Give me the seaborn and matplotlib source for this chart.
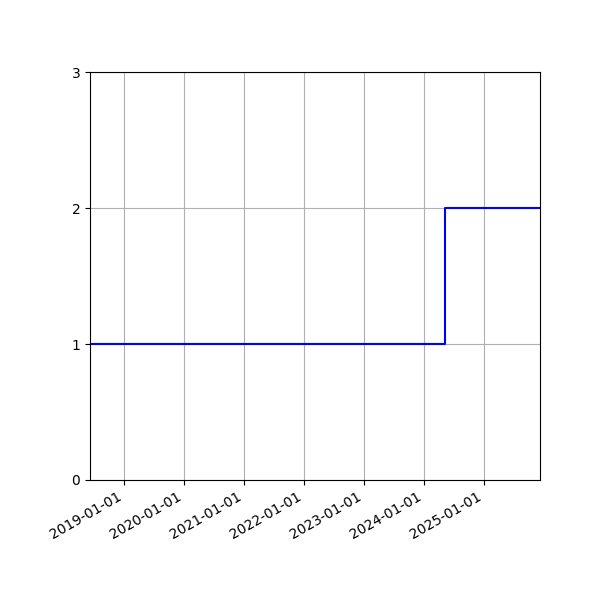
import pandas as pd
import matplotlib
matplotlib.use("Agg")
import matplotlib.pyplot as plt
import matplotlib.dates as mdates
import seaborn as sns

# step data
dates = ["2018-06-09", "2024-05-05", "2025-12-07"]
values = [1, 2, 2]
y_ticks = [0, 1, 2, 3]

df = pd.DataFrame({"date": pd.to_datetime(dates), "value": values})

# keep matplotlib's default look (black text, plain axes)
plt.rcParams["font.family"] = ["DejaVu Sans"]

fig, ax = plt.subplots(figsize=(6, 6), dpi=100)
sns.lineplot(data=df, x="date", y="value", ax=ax, color="blue",
             drawstyle="steps-post", linewidth=1.5)

ax.set_xlim(df["date"].iloc[0], df["date"].iloc[-1])
ax.set_ylim(0, 3)
ax.set_yticks(y_ticks)
ax.xaxis.set_major_locator(mdates.YearLocator())
ax.xaxis.set_major_formatter(mdates.DateFormatter("%Y-%m-%d"))
ax.grid(True)
ax.set_xlabel("")
ax.set_ylabel("")

fig.autofmt_xdate()
fig.subplots_adjust(left=0.15, right=0.9, top=0.88, bottom=0.2)
fig.savefig("out.png", dpi=100)
